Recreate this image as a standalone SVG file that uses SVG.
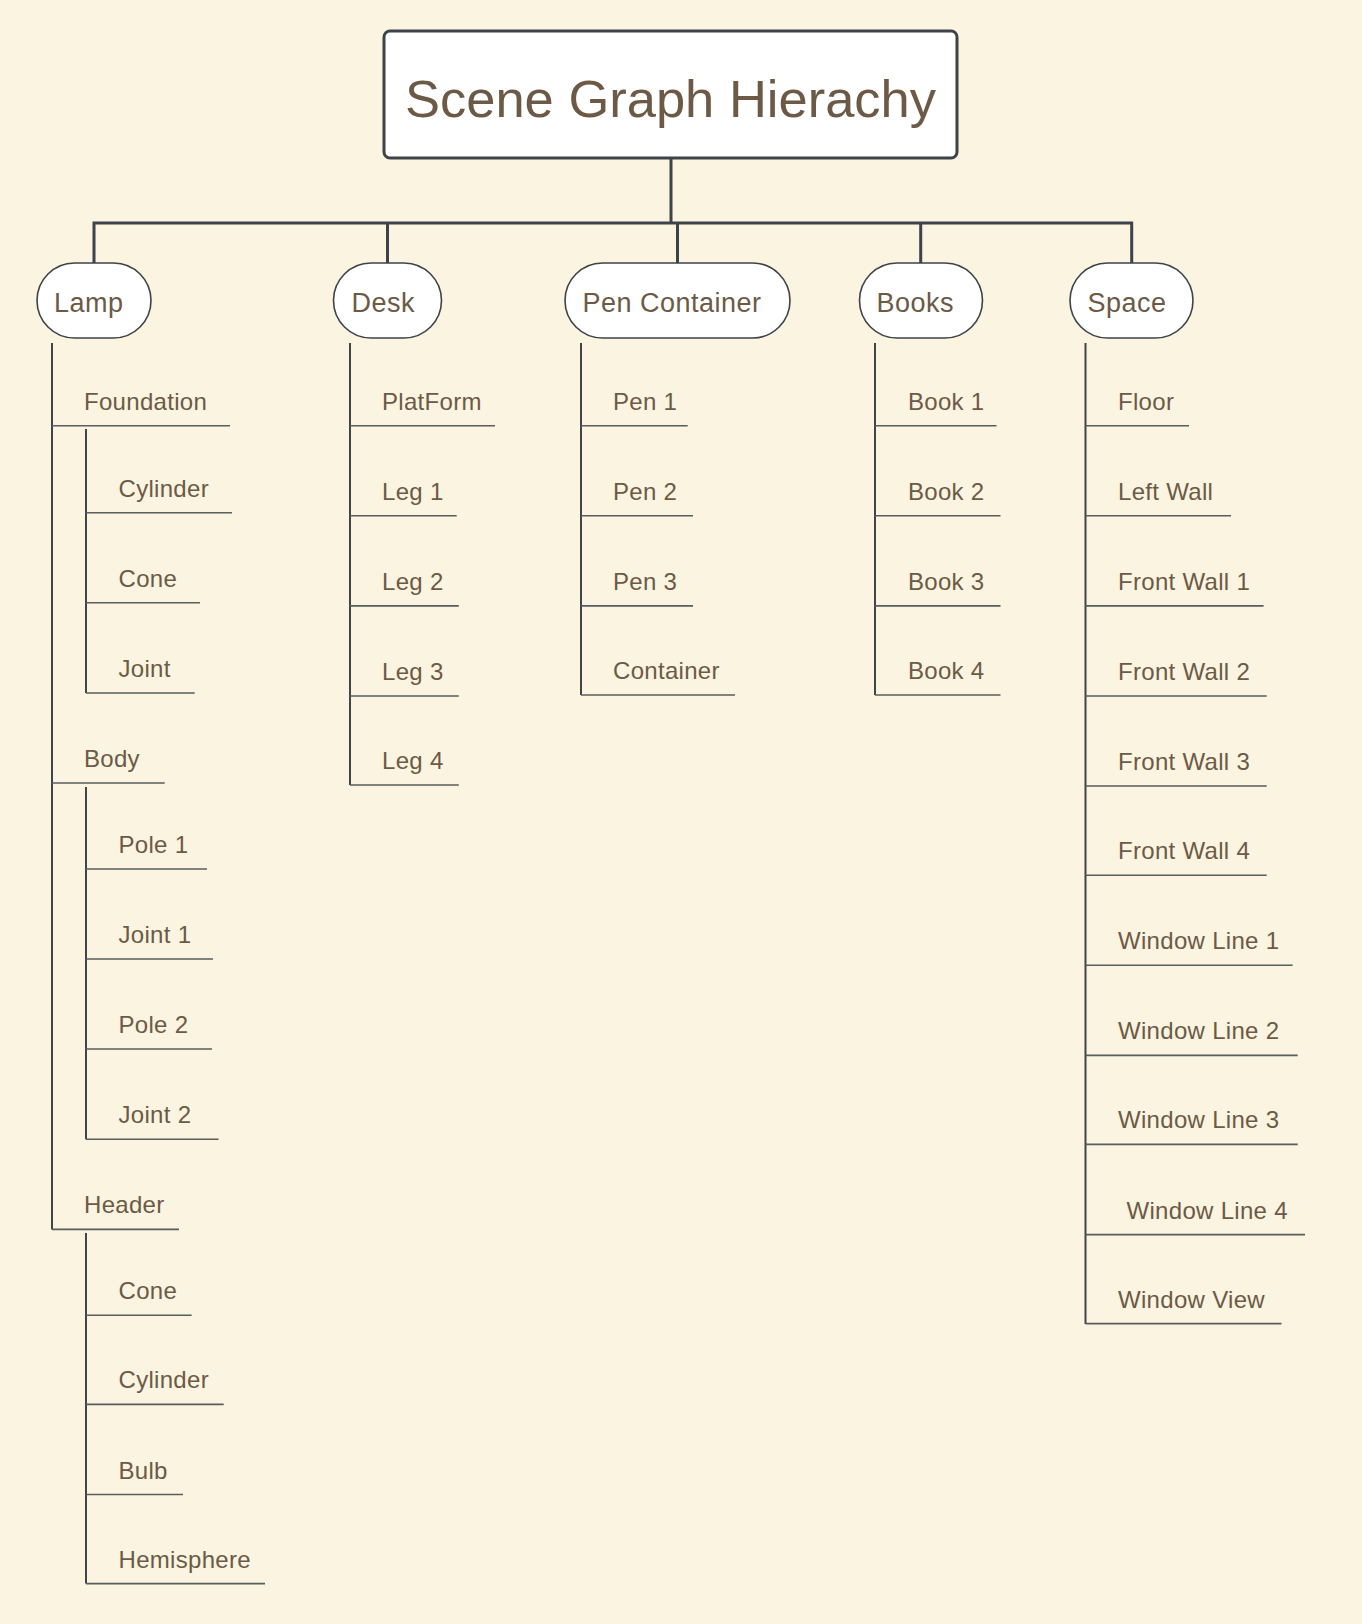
<svg xmlns="http://www.w3.org/2000/svg" width="1362" height="1624" viewBox="0 0 1362 1624">
<style>
.t{font-family:"Liberation Sans",Arial,sans-serif;fill:#6c5a46}
.leaf{font-size:24px;letter-spacing:0.3px}
.main{font-size:27px;letter-spacing:0.5px}
.pill{fill:#ffffff;stroke:#3d4349;stroke-width:1.6}
.ul{stroke:#585d61;stroke-width:1.6;fill:none}
.br{stroke:#3f454a;stroke-width:2;fill:none}
.trunk{stroke:#3d4349;stroke-width:3;fill:none}
</style>
<rect x="0" y="0" width="1362" height="1624" fill="#fbf4e0"/>
<g id="connectors">
<path class="trunk" d="M671 158V223M94 223H1132M94 221.5V263M387.5 223V263M677.5 223V263M920.7 223V263M1131.7 221.5V263"/>
<path class="br" d="M52 343V1229.4M86 429V693M86 787V1139.3M86 1233V1583.6M350 343V785M581 343V695M875 343V695M1085.5 343V1324"/>
</g>
<g id="root">
<rect x="384" y="31" width="573" height="127" rx="6" fill="#ffffff" stroke="#3d4349" stroke-width="3"/>
<text class="t" x="670.5" y="117" font-size="52.5" text-anchor="middle">Scene Graph Hierachy</text>
</g>
<g id="lamp"><rect class="pill" x="37" y="263" width="114" height="75" rx="37.5"/><text class="t main" x="54" y="312">Lamp</text></g>
<g id="desk"><rect class="pill" x="333.5" y="263" width="108" height="75" rx="37.5"/><text class="t main" x="351.5" y="312">Desk</text></g>
<g id="pen-container"><rect class="pill" x="565" y="263" width="225" height="75" rx="37.5"/><text class="t main" x="582.5" y="312">Pen Container</text></g>
<g id="books"><rect class="pill" x="859.5" y="263" width="123" height="75" rx="37.5"/><text class="t main" x="876.5" y="312">Books</text></g>
<g id="space"><rect class="pill" x="1070" y="263" width="123" height="75" rx="37.5"/><text class="t main" x="1087.5" y="312">Space</text></g>

<g id="lamp-foundation"><text class="t leaf" x="84" y="409.7">Foundation</text><path class="ul" d="M52 425.7H230"/></g>
<g id="lamp-foundation-cylinder"><text class="t leaf" x="118.5" y="496.7">Cylinder</text><path class="ul" d="M86 512.7H232"/></g>
<g id="lamp-foundation-cone"><text class="t leaf" x="118.5" y="586.8">Cone</text><path class="ul" d="M86 602.8H200"/></g>
<g id="lamp-foundation-joint"><text class="t leaf" x="118.5" y="677">Joint</text><path class="ul" d="M86 693H194.7"/></g>
<g id="lamp-body"><text class="t leaf" x="84" y="767">Body</text><path class="ul" d="M52 783H164.7"/></g>
<g id="lamp-body-pole1"><text class="t leaf" x="118.5" y="853">Pole 1</text><path class="ul" d="M86 869H207"/></g>
<g id="lamp-body-joint1"><text class="t leaf" x="118.5" y="943">Joint 1</text><path class="ul" d="M86 959H213"/></g>
<g id="lamp-body-pole2"><text class="t leaf" x="118.5" y="1033">Pole 2</text><path class="ul" d="M86 1049H212"/></g>
<g id="lamp-body-joint2"><text class="t leaf" x="118.5" y="1123.3">Joint 2</text><path class="ul" d="M86 1139.3H218.5"/></g>
<g id="lamp-header"><text class="t leaf" x="84" y="1213.4">Header</text><path class="ul" d="M52 1229.4H179"/></g>
<g id="lamp-header-cone"><text class="t leaf" x="118.5" y="1299.3">Cone</text><path class="ul" d="M86 1315.3H191.6"/></g>
<g id="lamp-header-cylinder"><text class="t leaf" x="118.5" y="1388.4">Cylinder</text><path class="ul" d="M86 1404.4H223.7"/></g>
<g id="lamp-header-bulb"><text class="t leaf" x="118.5" y="1478.5">Bulb</text><path class="ul" d="M86 1494.5H183"/></g>
<g id="lamp-header-hemisphere"><text class="t leaf" x="118.5" y="1567.6">Hemisphere</text><path class="ul" d="M86 1583.6H265"/></g>

<g id="desk-platform"><text class="t leaf" x="382" y="409.7">PlatForm</text><path class="ul" d="M350 425.7H495"/></g>
<g id="desk-leg1"><text class="t leaf" x="382" y="499.8">Leg 1</text><path class="ul" d="M350 515.8H456.7"/></g>
<g id="desk-leg2"><text class="t leaf" x="382" y="589.9">Leg 2</text><path class="ul" d="M350 605.9H458.8"/></g>
<g id="desk-leg3"><text class="t leaf" x="382" y="680">Leg 3</text><path class="ul" d="M350 696H458.8"/></g>
<g id="desk-leg4"><text class="t leaf" x="382" y="769">Leg 4</text><path class="ul" d="M350 785H458.8"/></g>

<g id="pen-1"><text class="t leaf" x="613" y="409.7">Pen 1</text><path class="ul" d="M581 425.7H687.7"/></g>
<g id="pen-2"><text class="t leaf" x="613" y="499.8">Pen 2</text><path class="ul" d="M581 515.8H693"/></g>
<g id="pen-3"><text class="t leaf" x="613" y="589.9">Pen 3</text><path class="ul" d="M581 605.9H693"/></g>
<g id="pen-container-item"><text class="t leaf" x="613" y="679">Container</text><path class="ul" d="M581 695H735"/></g>

<g id="book-1"><text class="t leaf" x="908" y="409.7">Book 1</text><path class="ul" d="M875 425.7H996.5"/></g>
<g id="book-2"><text class="t leaf" x="908" y="499.8">Book 2</text><path class="ul" d="M875 515.8H1000.5"/></g>
<g id="book-3"><text class="t leaf" x="908" y="589.9">Book 3</text><path class="ul" d="M875 605.9H1000.5"/></g>
<g id="book-4"><text class="t leaf" x="908" y="679">Book 4</text><path class="ul" d="M875 695H1000.5"/></g>

<g id="space-floor"><text class="t leaf" x="1118" y="409.7">Floor</text><path class="ul" d="M1085.5 425.7H1189"/></g>
<g id="space-left-wall"><text class="t leaf" x="1118" y="499.8">Left Wall</text><path class="ul" d="M1085.5 515.8H1231"/></g>
<g id="space-front-wall-1"><text class="t leaf" x="1118" y="589.9">Front Wall 1</text><path class="ul" d="M1085.5 605.9H1263.6"/></g>
<g id="space-front-wall-2"><text class="t leaf" x="1118" y="680">Front Wall 2</text><path class="ul" d="M1085.5 696H1266.7"/></g>
<g id="space-front-wall-3"><text class="t leaf" x="1118" y="770">Front Wall 3</text><path class="ul" d="M1085.5 786H1266.7"/></g>
<g id="space-front-wall-4"><text class="t leaf" x="1118" y="859.2">Front Wall 4</text><path class="ul" d="M1085.5 875.2H1266.7"/></g>
<g id="space-window-line-1"><text class="t leaf" x="1118" y="949.3">Window Line 1</text><path class="ul" d="M1085.5 965.3H1292.6"/></g>
<g id="space-window-line-2"><text class="t leaf" x="1118" y="1039.4">Window Line 2</text><path class="ul" d="M1085.5 1055.4H1297.7"/></g>
<g id="space-window-line-3"><text class="t leaf" x="1118" y="1128.4">Window Line 3</text><path class="ul" d="M1085.5 1144.4H1297.7"/></g>
<g id="space-window-line-4"><text class="t leaf" x="1126.5" y="1218.6">Window Line 4</text><path class="ul" d="M1085.5 1234.6H1305"/></g>
<g id="space-window-view"><text class="t leaf" x="1118" y="1307.6">Window View</text><path class="ul" d="M1085.5 1323.6H1281.5"/></g>
</svg>
